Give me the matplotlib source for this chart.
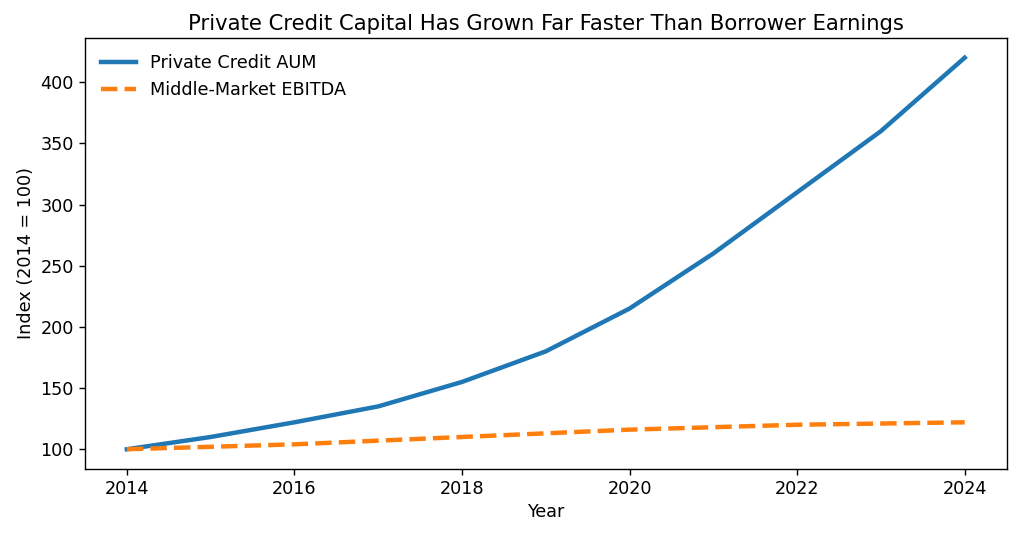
import matplotlib
matplotlib.use('Agg')
import matplotlib.pyplot as plt

# Index values, 2014 = 100
years = [2014, 2015, 2016, 2017, 2018, 2019, 2020, 2021, 2022, 2023, 2024]
private_credit_aum = [100, 110, 122, 135, 155, 180, 215, 260, 310, 360, 420]
mm_ebitda = [100, 102, 104, 107, 110, 113, 116, 118, 120, 121, 122]

plt.rcParams['font.size'] = 12.7

fig, ax = plt.subplots(figsize=(10.24, 5.37), dpi=100)
ax.plot(years, private_credit_aum, linewidth=3.2, label='Private Credit AUM')
ax.plot(years, mm_ebitda, linewidth=3.2, linestyle='--', label='Middle-Market EBITDA')

ax.set_title('Private Credit Capital Has Grown Far Faster Than Borrower Earnings', fontsize=15.2)
ax.set_xlabel('Year')
ax.set_ylabel('Index (2014 = 100)')
ax.set_xticks([2014, 2016, 2018, 2020, 2022, 2024])
for s in ax.spines.values():
    s.set_linewidth(1.0)
ax.tick_params(width=1.0, length=4.5)
ax.legend(frameon=False, loc='upper left')

plt.subplots_adjust(left=0.083, right=0.983, top=0.929, bottom=0.127)
plt.savefig('out.png')
